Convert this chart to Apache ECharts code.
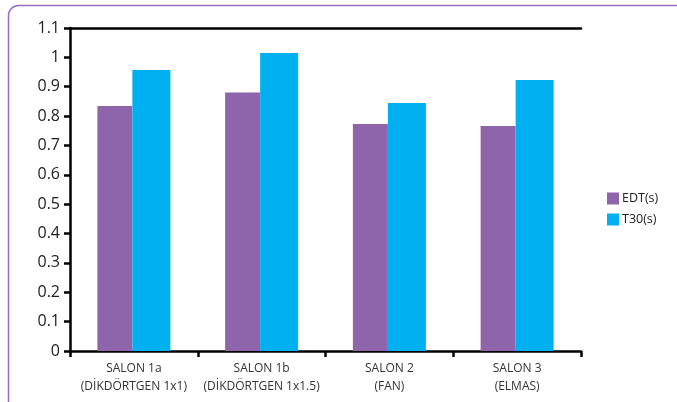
<!DOCTYPE html>
<html>
<head>
<meta charset="utf-8">
<script src="https://cdn.jsdelivr.net/npm/echarts@6/dist/echarts.min.js"></script>
<style>html,body{margin:0;padding:0;background:#fff;}#c{width:677px;height:402px;}</style>
</head>
<body>
<div id="c"></div>
<script>
const categories = ['SALON 1a\n(DİKDÖRTGEN 1x1)', 'SALON 1b\n(DİKDÖRTGEN 1x1.5)', 'SALON 2\n(FAN)', 'SALON 3\n(ELMAS)'];
const edtValues = [0.834, 0.880, 0.773, 0.766];
const t30Values = [0.957, 1.015, 0.845, 0.923];
const seriesNames = ['EDT(s)', 'T30(s)'];

const chart = echarts.init(document.getElementById('c'), null, {renderer: 'canvas'});
const font = 'Open Sans, Noto Sans, sans-serif';
chart.setOption({
  animation: false,
  backgroundColor: '#fff',
  graphic: [{
    type: 'rect',
    shape: {x: 8.5, y: 5.5, width: 720, height: 440, r: 10},
    style: {fill: 'none', stroke: '#9a6cc0', lineWidth: 1.5},
    z: -1
  }],
  grid: {left: 70, right: 96, top: 28, bottom: 51, containLabel: false},
  legend: {
    orient: 'vertical', left: 602, top: 187,
    itemWidth: 12, itemHeight: 12, itemGap: 8,
    icon: 'rect',
    textStyle: {fontFamily: font, fontSize: 12.5, color: '#222', padding: [0, 0, 0, -2]},
    data: seriesNames
  },
  xAxis: [{
    type: 'category',
    data: categories,
    axisLine: {show: true, lineStyle: {color: '#000', width: 2.5}},
    axisTick: {show: true, alignWithLabel: false, length: 6, lineStyle: {color: '#000', width: 2.5}},
    axisLabel: {fontFamily: font, fontSize: 12, color: '#333', margin: 9, lineHeight: 18, interval: 0}
  }, {
    type: 'category',
    position: 'top',
    data: categories,
    axisLine: {show: true, lineStyle: {color: '#000', width: 2.5}},
    axisTick: {show: false},
    axisLabel: {show: false}
  }],
  yAxis: {
    type: 'value',
    min: 0, max: 1.1, interval: 0.1,
    axisLine: {show: true, lineStyle: {color: '#000', width: 2.5}},
    axisTick: {show: true, length: 6, lineStyle: {color: '#000', width: 2.5}},
    splitLine: {show: false},
    axisLabel: {fontFamily: font, fontSize: 16, color: '#222', margin: 10,
      formatter: v => String(Math.round(v * 10) / 10)}
  },
  series: [{
    name: seriesNames[0], type: 'bar', data: edtValues,
    barWidth: 35, barGap: '0%', barCategoryGap: '42%',
    itemStyle: {color: '#8e64aa'}
  }, {
    name: seriesNames[1], type: 'bar', data: t30Values,
    barWidth: 38, barGap: '0%',
    itemStyle: {color: '#00b0f0'}
  }]
});
</script>
</body>
</html>
